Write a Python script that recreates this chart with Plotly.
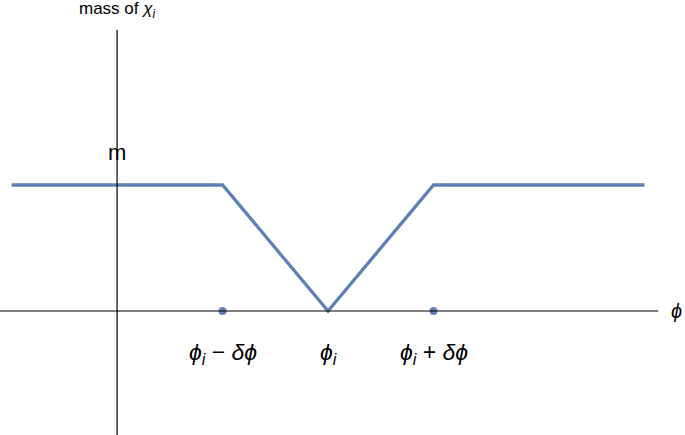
import plotly.graph_objects as go

# piecewise mass profile of chi_i around phi_i (phi_i = 0, delta phi = 1)
phi_pts = [-3, -1, 0, 1, 3]
mass_pts = [1, 1, 0, 1, 1]

# marked points on the phi axis
dot_phi = [-1, 1]
dot_mass = [0, 0]

# tick labels under the axis
tick_phi = [-1, 0, 1]
tick_text = [
    "<i>ϕ<sub>i</sub></i> − <i>δϕ</i>",
    "<i>ϕ<sub>i</sub></i>",
    "<i>ϕ<sub>i</sub></i> + <i>δϕ</i>",
]

x_range = [-3.11, 3.384]
y_range = [-0.984, 2.468]
axis_x_end = 3.13
axis_y_top = 2.23

line_color = "#5E81B5"
font_family = "Liberation Sans, Arial, sans-serif"

fig = go.Figure()

# axes drawn as plain lines
fig.add_shape(type="line", x0=x_range[0], x1=axis_x_end, y0=0, y1=0,
              line=dict(color="black", width=1.2))
fig.add_shape(type="line", x0=-2, x1=-2, y0=y_range[0], y1=axis_y_top,
              line=dict(color="black", width=1.2))

fig.add_trace(go.Scatter(
    x=phi_pts, y=mass_pts, mode="lines",
    line=dict(color=line_color, width=3.3), hoverinfo="skip"
))
fig.add_trace(go.Scatter(
    x=dot_phi, y=dot_mass, mode="markers",
    marker=dict(color=line_color, size=8), hoverinfo="skip"
))

for xv, txt in zip(tick_phi, tick_text):
    fig.add_annotation(x=xv, y=-0.335, text=txt, showarrow=False,
                       font=dict(size=23, color="black", family=font_family))

fig.add_annotation(x=-2, y=1.26, text="m", showarrow=False,
                   font=dict(size=22, color="black", family=font_family))
fig.add_annotation(x=-2, y=2.39, text="mass of <i>χ<sub>i</sub></i>", showarrow=False,
                   font=dict(size=17, color="black", family=font_family))
fig.add_annotation(x=3.30, y=0, text="<i>ϕ</i>", showarrow=False,
                   font=dict(size=20, color="black", family=font_family))

fig.update_layout(
    width=685, height=435,
    margin=dict(l=0, r=0, t=0, b=0),
    paper_bgcolor="white", plot_bgcolor="white",
    showlegend=False,
    xaxis=dict(range=x_range, visible=False, fixedrange=True),
    yaxis=dict(range=y_range, visible=False, fixedrange=True),
)

fig.write_html("out.html", config={"displayModeBar": False},
               post_script="document.body.style.margin = '0';")
